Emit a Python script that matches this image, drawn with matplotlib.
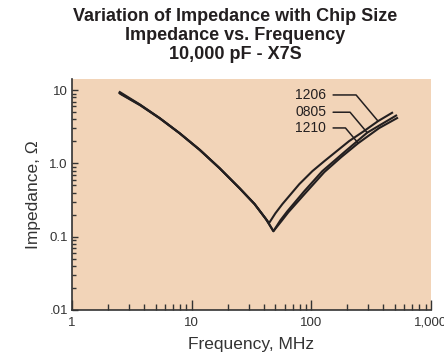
import matplotlib
matplotlib.use('Agg')
import matplotlib.pyplot as plt
import numpy as np

plt.rcParams['font.family'] = ['Liberation Sans', 'DejaVu Sans']

# impedance curves (MHz, ohm)
freq_1206 = [2.51, 3.69, 5.41, 7.94, 11.66, 17.1, 25.1, 33.5, 41.9, 44.4,
             50.1, 57.3, 79.4, 102, 128, 207, 276, 361, 473]
imp_1206 = [9.42, 6.38, 4.16, 2.59, 1.54, 0.863, 0.460, 0.280, 0.173, 0.154,
            0.209, 0.279, 0.523, 0.785, 1.07, 2.02, 2.77, 3.78, 4.91]

freq_0805 = [2.49, 3.69, 5.41, 7.94, 11.66, 17.1, 25.1, 33.5, 41.9, 48.2,
             55.2, 63.1, 87.4, 123.5, 188, 293, 511]
imp_0805 = [9.15, 6.33, 4.14, 2.58, 1.54, 0.863, 0.460, 0.280, 0.173, 0.119,
            0.168, 0.223, 0.419, 0.785, 1.42, 2.63, 4.50]

freq_1210 = [2.55, 3.72, 5.43, 7.94, 11.66, 17.1, 25.1, 33.5, 41.9, 48.2,
             56.2, 64.3, 89.1, 128.3, 177.8, 246.5, 369, 521]
imp_1210 = [8.85, 6.2, 4.10, 2.57, 1.53, 0.86, 0.460, 0.280, 0.173, 0.119,
            0.163, 0.216, 0.393, 0.761, 1.22, 1.89, 3.04, 4.16]

sizes = ['1206', '0805', '1210']
label_freq = [361, 293, 246.5]      # where each leader touches its curve
label_text_z = [8.6, 5.0, 3.05]     # vertical place of each label
label_text_f = 133

x_ticks = [1, 10, 100, 1000]
x_ticklabels = ['1', '10', '100', '1,000']
y_ticks = [0.01, 0.1, 1, 10]
y_ticklabels = ['.01', '0.1', '1.0', '10']

ink = '#231f20'
bg = '#f2d4b8'

fig = plt.figure(figsize=(4.44, 3.54), dpi=100)
ax = fig.add_axes([72/444, 1 - 310/354, (431 - 72)/444, (310 - 79)/354])
ax.set_facecolor(bg)

curves = {'1206': (freq_1206, imp_1206),
          '0805': (freq_0805, imp_0805),
          '1210': (freq_1210, imp_1210)}
for name in sizes:
    f, z = curves[name]
    ax.plot(f, z, color=ink, lw=1.5, solid_joinstyle='round')

ax.set_xscale('log')
ax.set_yscale('log')
ax.set_xlim(1, 1000)
ax.set_ylim(0.01, 14.2)

for name, lf, tz in zip(sizes, label_freq, label_text_z):
    f, z = curves[name]
    lz = 10 ** np.interp(np.log10(lf), np.log10(f), np.log10(z))
    ax.annotate(name, xy=(lf, lz), xytext=(label_text_f, tz),
                ha='right', va='center', fontsize=10, color=ink,
                arrowprops=dict(arrowstyle='-', color=ink, lw=1.1,
                                connectionstyle='angle,angleA=0,angleB=130,rad=0',
                                relpos=(1, 0.5), shrinkA=3, shrinkB=0))

ax.set_xticks(x_ticks)
ax.set_xticklabels(x_ticklabels)
ax.set_yticks(y_ticks)
ax.set_yticklabels(y_ticklabels)

for s in ['top', 'right']:
    ax.spines[s].set_visible(False)
for s in ['left', 'bottom']:
    ax.spines[s].set_color('#333333')
    ax.spines[s].set_linewidth(1.2)

ax.tick_params(axis='x', which='major', direction='in', length=7, width=1, colors='#333333', labelsize=9.5, pad=5)
ax.tick_params(axis='x', which='minor', direction='in', length=4, width=1, colors='#333333')
ax.tick_params(axis='y', which='major', direction='in', length=4.5, width=1, colors='#333333', labelsize=9.5, pad=3)
ax.tick_params(axis='y', which='minor', direction='in', length=3, width=1, colors='#333333')

ax.set_xlabel('Frequency, MHz', fontsize=12.5, color='#333333', labelpad=6)
ax.set_ylabel('Impedance, \u03a9', fontsize=12.5, color='#333333', labelpad=6)

fig.text(0.53, 1 - 8/354, 'Variation of Impedance with Chip Size\nImpedance vs. Frequency\n10,000 pF - X7S',
         ha='center', va='top', fontsize=13, fontweight='bold', color='#231f20', linespacing=1.16)

fig.savefig('out.png', dpi=100)
